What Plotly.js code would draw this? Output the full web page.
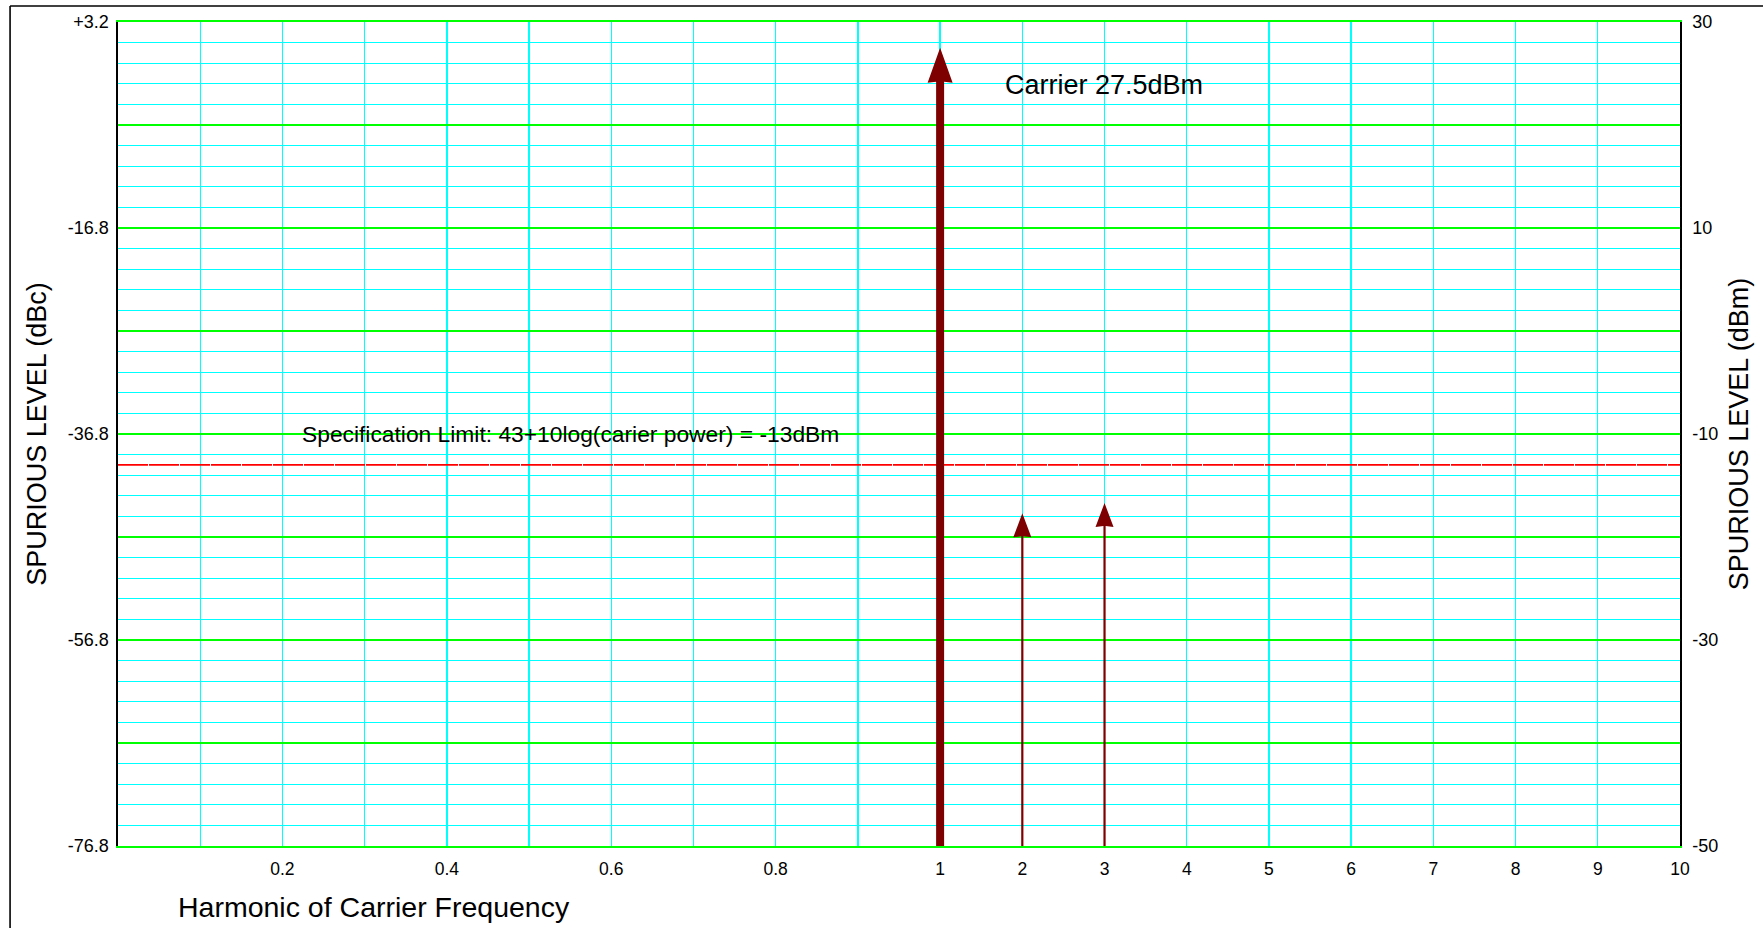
<!DOCTYPE html>
<html>
<head>
<meta charset="utf-8">
<script src="https://cdn.plot.ly/plotly-3.0.1.min.js"></script>
<style>html,body{margin:0;padding:0;background:#fff;}#chart{width:1763px;height:928px;}</style>
</head>
<body>
<div id="chart"></div>
<script>
// ---- data ----
const harmonics = [1, 2, 3];                 // harmonic number (1 = carrier)
const levelsDbm = [27.5, -17.7, -16.7];      // spurious level, dBm
const specLimitDbm = -13;                    // specification limit, dBm
const xGridValues = [0.1, 0.2, 0.3, 0.4, 0.5, 0.6, 0.7, 0.8, 0.9, 1, 2, 3, 4, 5, 6, 7, 8, 9, 10];
const xTickLabels = ['', '0.2', '', '0.4', '', '0.6', '', '0.8', '', '1', '2', '3', '4', '5', '6', '7', '8', '9', '10'];
const dbmTickVals = [-50, -40, -30, -20, -10, 0, 10, 20, 30];
const dbmTickText = ['-50', '', '-30', '', '-10', '', '10', '', '30'];
const dbcTickVals = [-76.8, -56.8, -36.8, -16.8, 3.2];
const dbcTickText = ['-76.8', '-56.8', '-36.8', '-16.8', '+3.2'];
const carrierLabel = 'Carrier 27.5dBm';
const specLabel = 'Specification Limit: 43+10log(carier power) = -13dBm';

// ---- scale: 0..1 in tenths, then 1..10 in units, equally spaced ----
function pos(v) { return v <= 1 ? v * 10 : v + 9; }

const FONT = 'Liberation Sans, Arial, Helvetica, sans-serif';
const ARROW = '#7f0000';
const GRIDW = 1.35;
// arrow styles: [shaft width, head width, head length] in px
const arrowStyles = [[8, 25, 35], [2.2, 18, 24], [2.2, 18, 24]];

const shapes = [];
harmonics.forEach((h, i) => {
  const [sw, hw, hl] = arrowStyles[i];
  const p = 'M' + (-sw / 2) + ',-3000 L' + (-sw / 2) + ',' + (-hl + 1) +
            ' L' + (-hw / 2) + ',' + (-hl) + ' L0,0 L' + (hw / 2) + ',' + (-hl) +
            ' L' + (sw / 2) + ',' + (-hl + 1) + ' L' + (sw / 2) + ',-3000 Z';
  shapes.push({
    type: 'path', xref: 'x', yref: 'y', xsizemode: 'pixel', ysizemode: 'pixel',
    xanchor: pos(h), yanchor: levelsDbm[i], path: p,
    fillcolor: ARROW, line: {width: 0}, layer: 'above'
  });
});
// outer frame (top and left edges)
shapes.push({type: 'line', xref: 'paper', yref: 'paper', x0: -0.0691, x1: 1.2, y0: 1.0194, y1: 1.0194, line: {color: '#000', width: 1.6}});
shapes.push({type: 'line', xref: 'paper', yref: 'paper', x0: -0.0691, x1: -0.0691, y0: -0.2, y1: 1.0194, line: {color: '#000', width: 1.6}});

const traces = [
  {
    x: [pos(0), pos(xGridValues[xGridValues.length - 1])],
    y: [specLimitDbm, specLimitDbm],
    mode: 'lines', yaxis: 'y', xaxis: 'x',
    line: {color: '#ff0000', width: 1.6, dash: '30px,1px'},
    hoverinfo: 'skip', showlegend: false
  },
  {
    x: harmonics.map(pos), y: levelsDbm, mode: 'markers', yaxis: 'y',
    marker: {size: 1, color: 'rgba(0,0,0,0)'}, hoverinfo: 'x+y', showlegend: false
  },
  { x: [null], y: [null], yaxis: 'y2', mode: 'markers', hoverinfo: 'skip', showlegend: false }
];

const layout = {
  width: 1763, height: 928,
  margin: {l: 118, r: 83, t: 22, b: 82, pad: 0},
  paper_bgcolor: '#fff', plot_bgcolor: '#fff',
  showlegend: false,
  font: {family: FONT, color: '#000', size: 18},
  xaxis: {
    range: [0, 19], tickmode: 'array',
    tickvals: xGridValues.map(pos), ticktext: xTickLabels,
    showgrid: true, gridcolor: '#00ffff', gridwidth: GRIDW,
    showline: true, linecolor: '#00ff00', linewidth: 1.6, mirror: true,
    ticks: 'outside', ticklen: 6, tickcolor: 'rgba(0,0,0,0)',
    zeroline: false, tickfont: {size: 17.5, family: FONT}
  },
  yaxis: {
    range: [-50, 30], side: 'right', tickmode: 'array',
    tickvals: dbmTickVals, ticktext: dbmTickText,
    showgrid: true, gridcolor: '#00ff00', gridwidth: GRIDW,
    minor: {tickmode: 'linear', tick0: -50, dtick: 2, showgrid: true, gridcolor: '#00ffff', gridwidth: GRIDW, ticks: ''},
    showline: true, linecolor: '#000', linewidth: 1.6,
    ticks: 'outside', ticklen: 7, tickcolor: 'rgba(0,0,0,0)',
    zeroline: false, tickfont: {size: 18, family: FONT},
    title: {text: 'SPURIOUS LEVEL (dBm)', font: {size: 27, family: FONT}, standoff: 12}
  },
  yaxis2: {
    range: [-76.8, 3.2], overlaying: 'y', side: 'left', tickmode: 'array',
    tickvals: dbcTickVals, ticktext: dbcTickText,
    showgrid: false, showline: true, linecolor: '#000', linewidth: 1.6,
    ticks: 'outside', ticklen: 4, tickcolor: 'rgba(0,0,0,0)',
    zeroline: false, tickfont: {size: 18, family: FONT},
    title: {text: 'SPURIOUS LEVEL (dBc)', font: {size: 27, family: FONT}, standoff: 13}
  },
  shapes: shapes,
  annotations: [
    {text: 'Harmonic of Carrier Frequency', xref: 'paper', yref: 'paper', x: 0.0371, y: -0.0741,
     xanchor: 'left', yanchor: 'middle', showarrow: false, font: {size: 28.5, family: FONT}},
    {text: carrierLabel, xref: 'paper', yref: 'paper', x: 0.5665, y: 0.9235,
     xanchor: 'left', yanchor: 'middle', showarrow: false, font: {size: 27, family: FONT}},
    {text: specLabel, xref: 'paper', yref: 'paper', x: 0.1168, y: 0.4998,
     xanchor: 'left', yanchor: 'middle', showarrow: false, font: {size: 22.8, family: FONT}}
  ]
};

Plotly.newPlot('chart', traces, layout, {displayModeBar: false, staticPlot: true});
</script>
</body>
</html>
